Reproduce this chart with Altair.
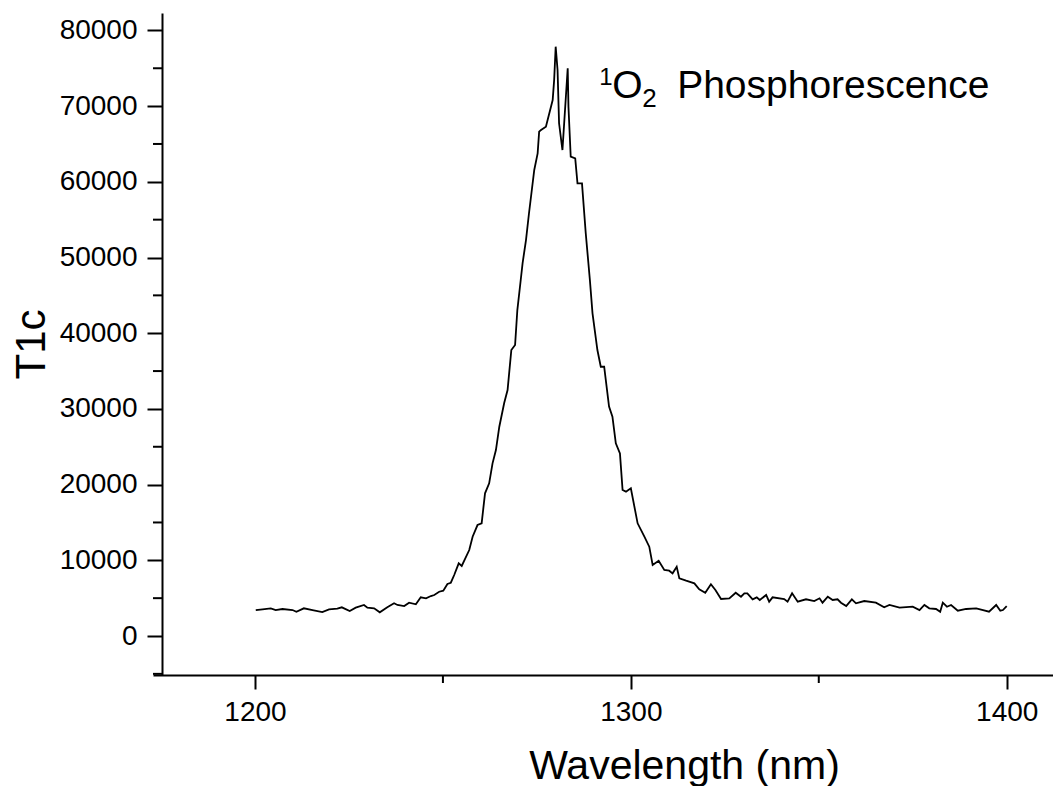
import altair as alt
import pandas as pd

WAVELENGTH = [1200.2, 1202, 1204.2, 1205.5, 1207.3, 1210, 1211, 1213, 1215.3, 1217.9,
              1219.7, 1221.9, 1223.1, 1225.2, 1226.8, 1229, 1229.9, 1231.7, 1233.2, 1235.2,
              1237, 1237.9, 1239.7, 1241, 1242.8, 1244.1, 1245.5, 1246.8, 1247.7, 1249,
              1250.1, 1251.2, 1252.1, 1253, 1254.2, 1255, 1257, 1257.9, 1259.2, 1260.3,
              1261.2, 1262.3, 1263.2, 1264.1, 1265, 1266.3, 1267.2, 1268.2, 1269.2, 1269.8,
              1270.7, 1271.2, 1272.1, 1272.9, 1274.3, 1275.2, 1275.6, 1276.1, 1277.4, 1279.2,
              1279.6, 1280, 1280.5, 1280.9, 1281.8, 1283.2, 1283.4, 1284, 1285.2, 1285.8,
              1287, 1288, 1289.1, 1289.8, 1291.1, 1292, 1292.9, 1294.2, 1295.1, 1296,
              1297.1, 1297.8, 1298.7, 1300, 1301.8, 1303.6, 1304.9, 1305.8, 1307.4, 1308.9,
              1310.2, 1311.1, 1312.2, 1312.9, 1314.7, 1316.9, 1318.2, 1319.8, 1321.3, 1322.5,
              1324, 1326.2, 1327.9, 1329.3, 1330.2, 1331, 1332.4, 1333.5, 1334.3, 1336,
              1336.8, 1337.7, 1340.8, 1341.7, 1342.9, 1344.4, 1346.6, 1348.8, 1350.2, 1351,
              1352.4, 1353.7, 1355, 1355.9, 1357.3, 1358.8, 1359.9, 1362.1, 1365.2, 1367.4,
              1368.8, 1371.5, 1375, 1376.8, 1378.1, 1379.4, 1381.2, 1382.3, 1383, 1384.1,
              1385.2, 1387, 1389.2, 1391.9, 1393.7, 1395.3, 1397.2, 1398.3, 1399, 1400]

T1C = [3430, 3530, 3660, 3430, 3570, 3430, 3210, 3660, 3430, 3170,
       3530, 3610, 3790, 3300, 3740, 4100, 3740, 3660, 3130, 3790,
       4320, 4100, 3960, 4400, 4190, 5110, 4980, 5280, 5420, 5850,
       5980, 6870, 7040, 8060, 9600, 9250, 11360, 13120, 14660, 14890,
       18850, 20170, 22810, 24570, 27650, 30780, 32500, 37780, 38440, 43060,
       47030, 49270, 52310, 55850, 61560, 63760, 66620, 66840, 67280, 70800,
       73500, 77850, 74770, 67730, 64200, 75000, 69920, 63320, 63100, 59800,
       59800, 53210, 47030, 42630, 37780, 35570, 35570, 30300, 28970, 25460,
       24130, 19290, 19070, 19510, 14890, 13120, 11800, 9380, 9950, 8720,
       8630, 8280, 9150, 7620, 7310, 6960, 6170, 5720, 6830, 6080,
       4890, 4980, 5720, 5190, 5640, 5640, 4850, 5110, 4760, 5420,
       4530, 5110, 4890, 4530, 5640, 4530, 4850, 4620, 4980, 4400,
       5190, 4760, 4850, 4400, 3960, 4850, 4320, 4620, 4400, 3790,
       4100, 3740, 3870, 3430, 4100, 3660, 3570, 3210, 4400, 3870,
       4100, 3340, 3570, 3660, 3430, 3210, 4100, 3340, 3430, 3960]

Y_MAJOR = [0, 10000, 20000, 30000, 40000, 50000, 60000, 70000, 80000]
Y_MINOR = [-5000, 5000, 15000, 25000, 35000, 45000, 55000, 65000, 75000]
X_MAJOR = [1200, 1300, 1400]
X_MINOR = [1250, 1350]

ANNOT_WL = [1291.3]
ANNOT_VAL = [70940]

FONT = "Liberation Sans"
W, H = 900, 662

df = pd.DataFrame({"wl": WAVELENGTH, "t1c": T1C})
xs = alt.Scale(domain=[1172.86, 1412.32], nice=False, zero=False)
ys = alt.Scale(domain=[-5150, 82300], nice=False, zero=False)

X_AXIS = alt.Axis(
    values=X_MAJOR, format="d", title="Wavelength (nm)", grid=False,
    tickSize=14, tickWidth=2, tickColor="black", domainWidth=2, domainColor="black",
    labelFont=FONT, labelFontSize=28, labelColor="black", labelPadding=9,
    titleFont=FONT, titleFontSize=41, titleFontWeight="normal", titleColor="black",
    titlePadding=20, titleX=531, titleAlign="center")
Y_AXIS = alt.Axis(
    values=Y_MAJOR, format="d", title="T1c", grid=False, offset=-9,
    tickSize=15, tickWidth=2, tickColor="black", domainWidth=2, domainColor="black",
    labelFont=FONT, labelFontSize=28, labelColor="black", labelPadding=10,
    titleFont=FONT, titleFontSize=42, titleFontWeight="normal", titleColor="black",
    titlePadding=6)

line = alt.Chart(df).mark_line(color="black", strokeWidth=1.8).encode(
    x=alt.X("wl:Q", scale=xs, axis=X_AXIS),
    y=alt.Y("t1c:Q", scale=ys, axis=Y_AXIS),
)

ymin = alt.Chart(pd.DataFrame({"v": Y_MINOR})).mark_rule(color="black", strokeWidth=2).encode(
    y=alt.Y("v:Q", scale=ys, axis=Y_AXIS),
    x=alt.value(0), x2=alt.value(9),
)
xmin = alt.Chart(pd.DataFrame({"v": X_MINOR})).mark_rule(color="black", strokeWidth=2).encode(
    x=alt.X("v:Q", scale=xs, axis=X_AXIS),
    y=alt.value(H), y2=alt.value(H + 8),
)

adf = pd.DataFrame({"x": ANNOT_WL, "y": ANNOT_VAL})


def part(txt, size, dx, dy):
    return alt.Chart(adf).mark_text(
        text=txt, font=FONT, fontSize=size, align="left", baseline="alphabetic",
        dx=dx, dy=dy, color="black").encode(
        x=alt.X("x:Q", scale=xs, axis=X_AXIS),
        y=alt.Y("y:Q", scale=ys, axis=Y_AXIS),
    )


annot = [part("1", 24, 1, -14), part("O", 39, 14, -1), part("2", 26, 44, 8),
         part("Phosphorescence", 39, 79, -1)]

chart = alt.layer(line, ymin, xmin, *annot).properties(
    width=W, height=H,
    padding={"left": 2, "top": 5, "right": 0, "bottom": 0},
).configure(background="white").configure_view(stroke=None)

chart.save("out.html", embed_options={"renderer": "svg", "actions": False})
